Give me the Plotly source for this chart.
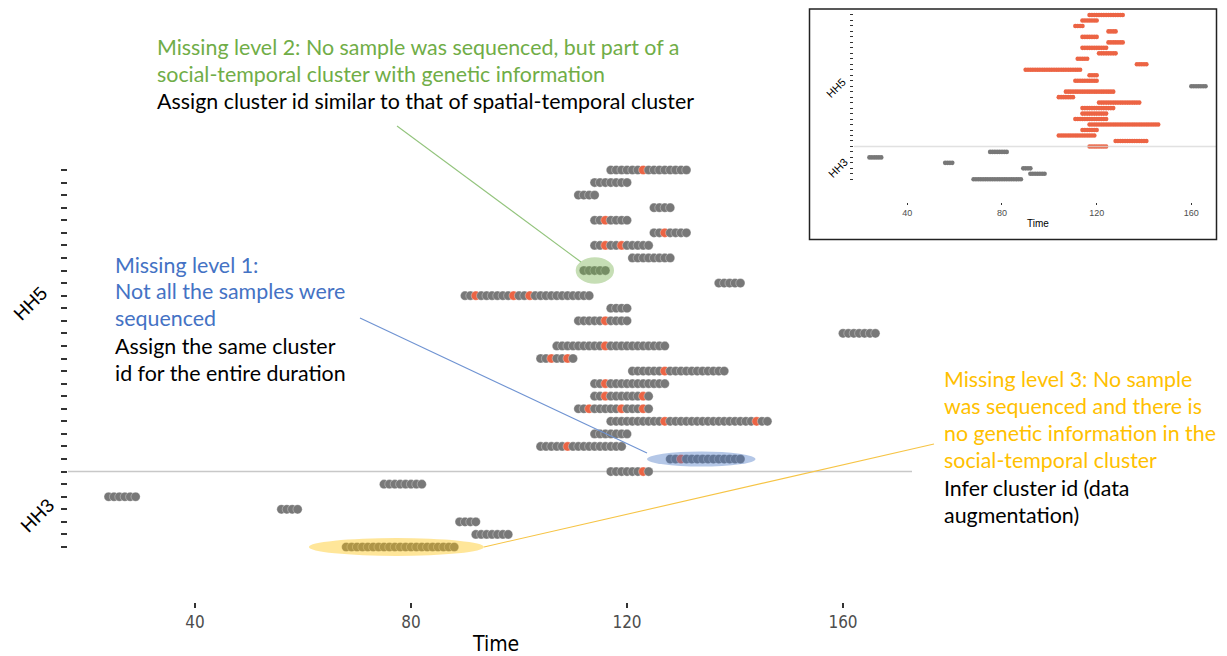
import plotly.graph_objects as go

# ---------------- data ----------------
# rows listed top to bottom (household HH5 first, then HH3)
row_start = [117, 114, 111, 125, 114, 125, 114, 121, 112, 137, 90, 117, 111, 160, 107, 104,
             121, 114, 114, 111, 117, 114, 104, 128, 117, 75, 24, 56, 89, 92, 68]
row_end = [131, 120, 114, 128, 120, 131, 124, 128, 116, 141, 113, 120, 120, 166, 127, 110,
           138, 127, 124, 124, 146, 120, 119, 141, 124, 82, 29, 59, 92, 98, 88]
sequenced_days = [[123], [], [], [], [116], [127], [116, 119], [], [], [], [92, 99, 102], [],
                  [116], [], [116], [106, 109], [127], [116], [116, 123], [113, 119, 123],
                  [127, 144], [], [109], [130], [123], [], [], [], [], [], []]
household = ["HH5"] * 25 + ["HH3"] * 6
inset_cluster = ["A"] * 13 + ["none"] + ["A"] * 11 + ["none"] * 6
x_ticks = [40, 80, 120, 160]
highlight_rows = {"green": 8, "blue": 23, "yellow": 30}

W, H = 1227, 656
n = len(row_start)
row_y = [n - 1 - i for i in range(n)]
boundary_row = row_y[24]

GRAY = "#787878"
ORANGE = "#EC6444"

def px(x):
    return x / W

def py(y):
    return 1 - y / H

# main trace points
mx, my, mc = [], [], []
for i in range(n):
    for t in range(row_start[i], row_end[i] + 1):
        mx.append(t)
        my.append(row_y[i])
        mc.append(ORANGE if t in sequenced_days[i] else GRAY)

# inset trace points
ix, iy, ic = [], [], []
for i in range(n):
    for t in range(row_start[i], row_end[i] + 1):
        ix.append(t)
        iy.append(row_y[i])
        ic.append(ORANGE if inset_cluster[i] == "A" else GRAY)

fig = go.Figure()
fig.add_trace(go.Scatter(
    x=mx, y=my, mode="markers", xaxis="x", yaxis="y",
    marker=dict(size=9.2, color=mc, line=dict(width=0.6, color="rgba(255,255,255,0.55)")),
    hoverinfo="skip", showlegend=False))
fig.add_trace(go.Scatter(
    x=ix, y=iy, mode="markers", xaxis="x2", yaxis="y2",
    marker=dict(size=4.6, color=ic, line=dict(width=0)),
    hoverinfo="skip", showlegend=False))

shapes = []
# household boundary lines
shapes.append(dict(type="line", xref="x domain", yref="y", x0=0, x1=1,
                   y0=boundary_row, y1=boundary_row, layer="below",
                   line=dict(color="#c8c8c8", width=1.5)))
shapes.append(dict(type="line", xref="x2 domain", yref="y2", x0=0, x1=1,
                   y0=boundary_row, y1=boundary_row, layer="above",
                   line=dict(color="rgba(215,215,215,0.75)", width=1.5)))

# highlight ellipses
hl_style = {
    "green": dict(fill="rgba(112,173,71,0.40)", padl=1.5, padr=1.6, pady=1.05),
    "blue": dict(fill="rgba(68,114,196,0.40)", padl=4.3, padr=2.8, pady=0.6),
    "yellow": dict(fill="rgba(255,192,0,0.40)", padl=6.9, padr=5.5, pady=0.71),
}
for k, ri in highlight_rows.items():
    s = hl_style[k]
    shapes.append(dict(type="circle", xref="x", yref="y",
                       x0=row_start[ri] - s["padl"], x1=row_end[ri] + s["padr"],
                       y0=row_y[ri] - s["pady"], y1=row_y[ri] + s["pady"],
                       fillcolor=s["fill"], line=dict(width=0), layer="above"))

# callout lines
callouts = [((397, 126), (581, 262), "#93C47D"),
            ((360, 318), (647, 453), "#6F93D2"),
            ((484, 547), (934, 444), "#F6C445")]
for (x0, y0), (x1, y1), c in callouts:
    shapes.append(dict(type="line", xref="paper", yref="paper",
                       x0=px(x0), y0=py(y0), x1=px(x1), y1=py(y1),
                       line=dict(color=c, width=1.1), layer="above"))

# inset frame
shapes.append(dict(type="rect", xref="paper", yref="paper",
                   x0=px(809.5), y0=py(9), x1=px(1216.5), y1=py(239.5),
                   line=dict(color="#222222", width=1.5), fillcolor="rgba(0,0,0,0)"))

TXT_FONT = "Lato, Carlito, Noto Sans, sans-serif"
FS = 21.4
annots = []

def txt(x, y, s, color, size=FS, font=TXT_FONT, xanchor="left", angle=0):
    annots.append(dict(x=px(x), y=py(y), xref="paper", yref="paper", text=s,
                       showarrow=False, xanchor=xanchor, yanchor="middle",
                       textangle=angle, font=dict(family=font, size=size, color=color)))

GREEN_T, BLUE_T, GOLD_T = "#70AD47", "#4472C4", "#FFC000"
txt(155, 47, "Missing level 2: No sample was sequenced, but part of a", GREEN_T)
txt(155, 74, "social-temporal cluster with genetic information", GREEN_T)
txt(155, 101, "Assign cluster id similar to that of spatial-temporal cluster", "#000000")

txt(113, 265, "Missing level 1:", BLUE_T)
txt(113, 291, "Not all the samples were", BLUE_T)
txt(113, 318, "sequenced", BLUE_T)
txt(113, 346, "Assign the same cluster", "#000000")
txt(113, 373, "id for the entire duration", "#000000")

txt(942, 379, "Missing level 3: No sample", GOLD_T)
txt(942, 406, "was sequenced and there is", GOLD_T)
txt(942, 433, "no genetic information in the", GOLD_T)
txt(942, 460, "social-temporal cluster", GOLD_T)
txt(942, 488, "Infer cluster id (data", "#000000")
txt(942, 515, "augmentation)", "#000000")

AX_FONT = "Liberation Sans Narrow, DejaVu Sans Condensed, Liberation Sans, sans-serif"
txt(30, 303, "HH5", "#000000", size=19, font="Liberation Sans, sans-serif", xanchor="center", angle=-45)
txt(37, 515, "HH3", "#000000", size=19, font="Liberation Sans, sans-serif", xanchor="center", angle=-45)
txt(495, 644, "Time", "#000000", size=21, font=AX_FONT, xanchor="center")

txt(836, 88, "HH5", "#000000", size=11, font="Liberation Sans, sans-serif", xanchor="center", angle=-45)
txt(838, 168, "HH3", "#000000", size=11, font="Liberation Sans, sans-serif", xanchor="center", angle=-45)
txt(1038, 223, "Time", "#000000", size=10, font="Liberation Sans, sans-serif", xanchor="center")

# axis geometry (pixel based)
def xr(p_left, p_right, t_ref_px, t_ref, ppu):
    return [t_ref + (p_left - t_ref_px) / ppu, t_ref + (p_right - t_ref_px) / ppu]

main_row0_px, main_ppr = 547.0, 12.567
inset_row0_px, inset_ppr = 179.3, 5.477

fig.update_layout(
    width=W, height=H,
    margin=dict(l=0, r=0, t=0, b=0, pad=0),
    paper_bgcolor="white", plot_bgcolor="rgba(0,0,0,0)",
    showlegend=False,
    shapes=shapes, annotations=annots,
    xaxis=dict(domain=[px(68), px(912)], range=xr(68, 912, 195, 40, 5.4),
               tickvals=x_ticks, ticks="outside", ticklen=5, tickwidth=1.5, tickcolor="#333333",
               showgrid=False, zeroline=False, showline=False,
               tickfont=dict(family=AX_FONT, size=17, color="#4d4d4d")),
    yaxis=dict(domain=[py(602), py(160)],
               range=[(main_row0_px - 602) / main_ppr, (main_row0_px - 160) / main_ppr],
               tickvals=list(range(n)), ticks="outside", ticklen=5.6, tickwidth=2, tickcolor="#333333",
               showticklabels=False, showgrid=False, zeroline=False, showline=False),
    xaxis2=dict(domain=[px(854), px(1216)], range=xr(854, 1216, 907.3, 40, 2.367),
                anchor="y2", tickvals=x_ticks, ticks="outside", ticklen=2, tickwidth=1, tickcolor="#333333",
                showgrid=False, zeroline=False, showline=False,
                tickfont=dict(family="Liberation Sans, sans-serif", size=9, color="#4d4d4d")),
    yaxis2=dict(domain=[py(202), py(10)], anchor="x2",
                range=[(inset_row0_px - 202) / inset_ppr, (inset_row0_px - 10) / inset_ppr],
                tickvals=list(range(n)), ticks="outside", ticklen=3, tickwidth=1, tickcolor="#333333",
                showticklabels=False, showgrid=False, zeroline=False, showline=False),
)

fig.write_html("out.html", config={"displayModeBar": False},
               post_script="document.body.style.margin='0';document.body.style.overflow='hidden';")
